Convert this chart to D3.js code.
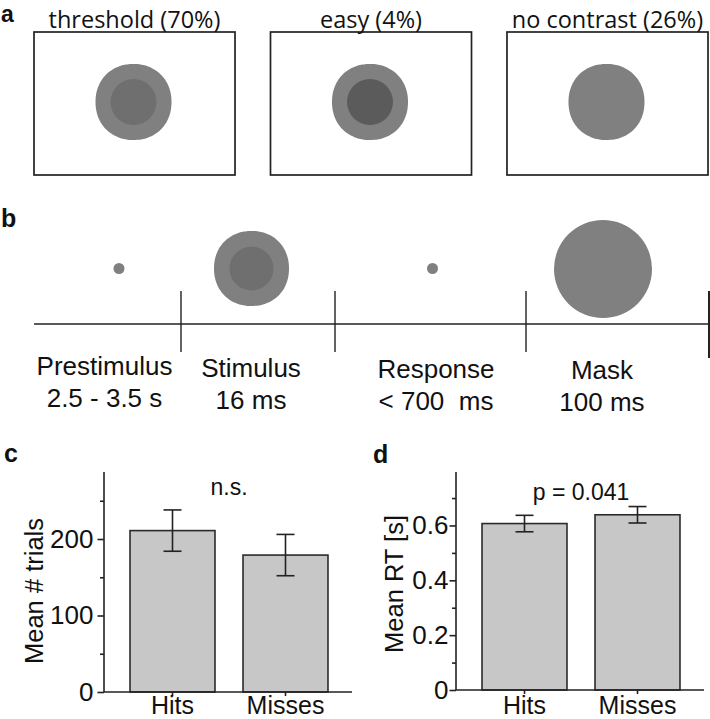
<!DOCTYPE html>
<html>
<head>
<meta charset="utf-8">
<script src="https://cdn.jsdelivr.net/npm/d3@7"></script>
<style>
  html, body { margin: 0; padding: 0; background: #fff; }
  svg { display: block; }
</style>
</head>
<body>
<svg id="chart" width="710" height="719"></svg>
<script>
// ---------------- data ----------------
const stimulusConditions = ["threshold (70%)", "easy (4%)", "no contrast (26%)"];
const conditionContrast = ["threshold", "easy", "none"];
const timelinePhases = ["Prestimulus", "Stimulus", "Response", "Mask"];
const timelineDurations = ["2.5 - 3.5 s", "16 ms", "< 700  ms", "100 ms"];
const timelineDisplays = ["fixation", "stimulus", "fixation", "mask"];
const barCategories = ["Hits", "Misses"];
const trialMeans = [211, 179];
const trialErrors = [27, 27];
const rtMeans = [0.607, 0.639];
const rtErrors = [0.030, 0.030];
const trialTicks = [0, 100, 200];
const trialMinorTicks = [50, 150, 250];
const rtTicks = [0, 0.2, 0.4, 0.6];
const rtMinorTicks = [0.1, 0.3, 0.5, 0.7];
const trialStat = "n.s.";
const rtStat = "p = 0.041";

// ---------------- helpers ----------------
const svg = d3.select("#chart");
const SANS = "'Liberation Sans', Arial, Helvetica, sans-serif";
const HUM = "'Open Sans', 'Noto Sans', sans-serif";
const GRAY = "#808080";
const innerShade = { threshold: "#6f6f6f", easy: "#5b5b5b", none: null };

function blobPath(R, n) {
  const pts = d3.range(0, 90).map(i => {
    const t = i / 90 * 2 * Math.PI + 0.15;
    const c = Math.abs(Math.cos(t)), s = Math.abs(Math.sin(t));
    const r = R / Math.pow(Math.pow(c, n) + Math.pow(s, n), 1 / n);
    return [t, r];
  });
  return d3.lineRadial().curve(d3.curveCardinalClosed)(pts);
}

function panelLabel(t, x, y, fs) {
  svg.append("text").attr("x", x).attr("y", y).text(t)
    .attr("font-family", SANS).attr("font-weight", "bold").attr("font-size", fs || 25).attr("fill", "#111");
}

// ---------------- panel a ----------------
panelLabel("a", 1, 22, 23);
const boxX = d3.scaleBand().domain(stimulusConditions).range([34, 708]).paddingInner(0.15).paddingOuter(0);
const boxTop = 32, boxH = 143;
stimulusConditions.forEach((c, i) => {
  const x0 = boxX(c), w = boxX.bandwidth();
  const g = svg.append("g");
  g.append("rect").attr("x", x0).attr("y", boxTop).attr("width", w).attr("height", boxH)
    .attr("fill", "#fff").attr("stroke", "#222").attr("stroke-width", 1.7);
  g.append("text").attr("x", x0 + w / 2).attr("y", 27.5).attr("text-anchor", "middle")
    .attr("font-family", HUM).attr("font-size", 23.5).attr("fill", "#111").text(c);
  const cx = x0 + w / 2 - 1, cy = boxTop + 70;
  g.append("path").attr("d", blobPath(38, 2.12)).attr("transform", `translate(${cx},${cy})`).attr("fill", GRAY);
  const sh = innerShade[conditionContrast[i]];
  if (sh) g.append("circle").attr("cx", cx).attr("cy", cy).attr("r", 23).attr("fill", sh);
});

// ---------------- panel b ----------------
panelLabel("b", 1, 227);
const lineY = 324;
const bounds = [34, 181, 335, 526, 709];
svg.append("line").attr("x1", bounds[0]).attr("x2", bounds[4]).attr("y1", lineY).attr("y2", lineY)
  .attr("stroke", "#222").attr("stroke-width", 1.4);
bounds.slice(1).forEach((bx, i) => {
  svg.append("line").attr("x1", bx).attr("x2", bx).attr("y1", 291).attr("y2", i === 3 ? 358 : 352)
    .attr("stroke", "#222").attr("stroke-width", i === 3 ? 2 : 1.4);
});
const phaseCenters = [104.5, 251, 436, 602];
const line1Y = [375, 377, 378, 379], line2Y = [407, 409, 410, 411];
const displayY = 268.5;
timelinePhases.forEach((p, i) => {
  const cx = phaseCenters[i];
  svg.append("text").attr("x", cx).attr("y", line1Y[i]).attr("text-anchor", "middle")
    .attr("font-family", SANS).attr("font-size", 26).attr("fill", "#111").text(p);
  svg.append("text").attr("x", cx).attr("y", line2Y[i]).attr("text-anchor", "middle")
    .attr("font-family", SANS).attr("font-size", 26).attr("fill", "#111")
    .attr("xml:space", "preserve").style("white-space", "pre").text(timelineDurations[i]);
  const dtype = timelineDisplays[i];
  const dx = [119, 251.5, 432.5, 603][i];
  if (dtype === "fixation") {
    svg.append("circle").attr("cx", dx).attr("cy", displayY).attr("r", 5.5).attr("fill", GRAY);
  } else if (dtype === "stimulus") {
    svg.append("path").attr("d", blobPath(37.5, 2.12)).attr("transform", `translate(${dx},${displayY})`).attr("fill", GRAY);
    svg.append("circle").attr("cx", dx).attr("cy", displayY).attr("r", 22).attr("fill", innerShade.threshold);
  } else {
    svg.append("circle").attr("cx", dx).attr("cy", displayY + 0.5).attr("r", 49).attr("fill", GRAY);
  }
});

// ---------------- panels c & d ----------------
function barPanel(opts) {
  const { x0, yBase, yTop, domainMax, means, errs, ticks, minor, fmt, ylabel, ylabelX, ylabelY, stat, statY, pad } = opts;
  const g = svg.append("g");
  const y = d3.scaleLinear().domain([0, domainMax]).range([yBase, yTop]);
  const x = d3.scaleBand().domain(barCategories).range([x0 + 12, x0 + 238]).paddingInner(0.248).paddingOuter(0.124);
  // bars
  g.selectAll("rect.bar").data(barCategories).enter().append("rect")
    .attr("x", d => x(d)).attr("width", x.bandwidth())
    .attr("y", (d, i) => y(means[i])).attr("height", (d, i) => y(0) - y(means[i]))
    .attr("fill", "#c7c7c7").attr("stroke", "#2a2a2a").attr("stroke-width", 1.6);
  // error bars
  barCategories.forEach((d, i) => {
    const cx = x(d) + x.bandwidth() / 2;
    const hi = y(means[i] + errs[i]), lo = y(means[i] - errs[i]);
    g.append("line").attr("x1", cx).attr("x2", cx).attr("y1", hi).attr("y2", lo).attr("stroke", "#222").attr("stroke-width", 1.6);
    [hi, lo].forEach(v => g.append("line").attr("x1", cx - 9).attr("x2", cx + 9).attr("y1", v).attr("y2", v)
      .attr("stroke", "#222").attr("stroke-width", 1.6));
  });
  // y axis
  const ya = g.append("g").attr("transform", `translate(${x0},0)`)
    .call(d3.axisLeft(y).tickValues(ticks).tickSize(6.5).tickPadding(pad).tickFormat(fmt));
  ya.select(".domain").attr("d", `M0,${yBase}V${yTop}`).attr("stroke", "#222").attr("stroke-width", 1.6);
  ya.selectAll(".tick line").attr("stroke", "#222").attr("stroke-width", 1.6);
  ya.selectAll(".tick text").attr("font-family", SANS).attr("font-size", 26).attr("fill", "#111");
  const ym = g.append("g").attr("transform", `translate(${x0},0)`)
    .call(d3.axisLeft(y).tickValues(minor).tickSize(4).tickFormat(""));
  ym.select(".domain").remove();
  ym.selectAll(".tick line").attr("stroke", "#222").attr("stroke-width", 1.6);
  // x axis
  const xa = g.append("g").attr("transform", `translate(0,${yBase})`)
    .call(d3.axisBottom(x).tickSize(4).tickPadding(4));
  xa.select(".domain").attr("d", `M${x0},0H${x0 + 248}`).attr("stroke", "#222").attr("stroke-width", 1.6);
  xa.selectAll(".tick line").attr("stroke", "#222").attr("stroke-width", 1.6);
  xa.selectAll(".tick text").attr("font-family", SANS).attr("font-size", 25).attr("fill", "#111")
    .attr("dy", null).attr("y", 714 - yBase);
  // y label
  g.append("text").attr("transform", `translate(${ylabelX},${ylabelY}) rotate(-90)`)
    .attr("text-anchor", "middle").attr("font-family", SANS).attr("font-size", 25.5).attr("fill", "#111").text(ylabel);
  // stat
  g.append("text").attr("x", (x(barCategories[0]) + x(barCategories[1]) + x.bandwidth()) / 2).attr("y", statY)
    .attr("text-anchor", "middle").attr("font-family", SANS).attr("font-size", 23).attr("fill", "#111").text(stat);
}

panelLabel("c", 4, 462);
barPanel({ x0: 104, yBase: 692, yTop: 472, domainMax: 287.6, means: trialMeans, errs: trialErrors,
  ticks: trialTicks, minor: trialMinorTicks, fmt: d3.format("d"), ylabel: "Mean # trials", ylabelX: 43, ylabelY: 591,
  stat: trialStat, statY: 495, pad: 4 });

panelLabel("d", 373, 463);
barPanel({ x0: 456, yBase: 690, yTop: 472, domainMax: 0.795, means: rtMeans, errs: rtErrors,
  ticks: rtTicks, minor: rtMinorTicks, fmt: d => d === 0 ? "0" : d3.format(".1f")(d), ylabel: "Mean RT [s]", ylabelX: 403, ylabelY: 584,
  stat: rtStat, statY: 500, pad: 1 });
</script>
</body>
</html>
